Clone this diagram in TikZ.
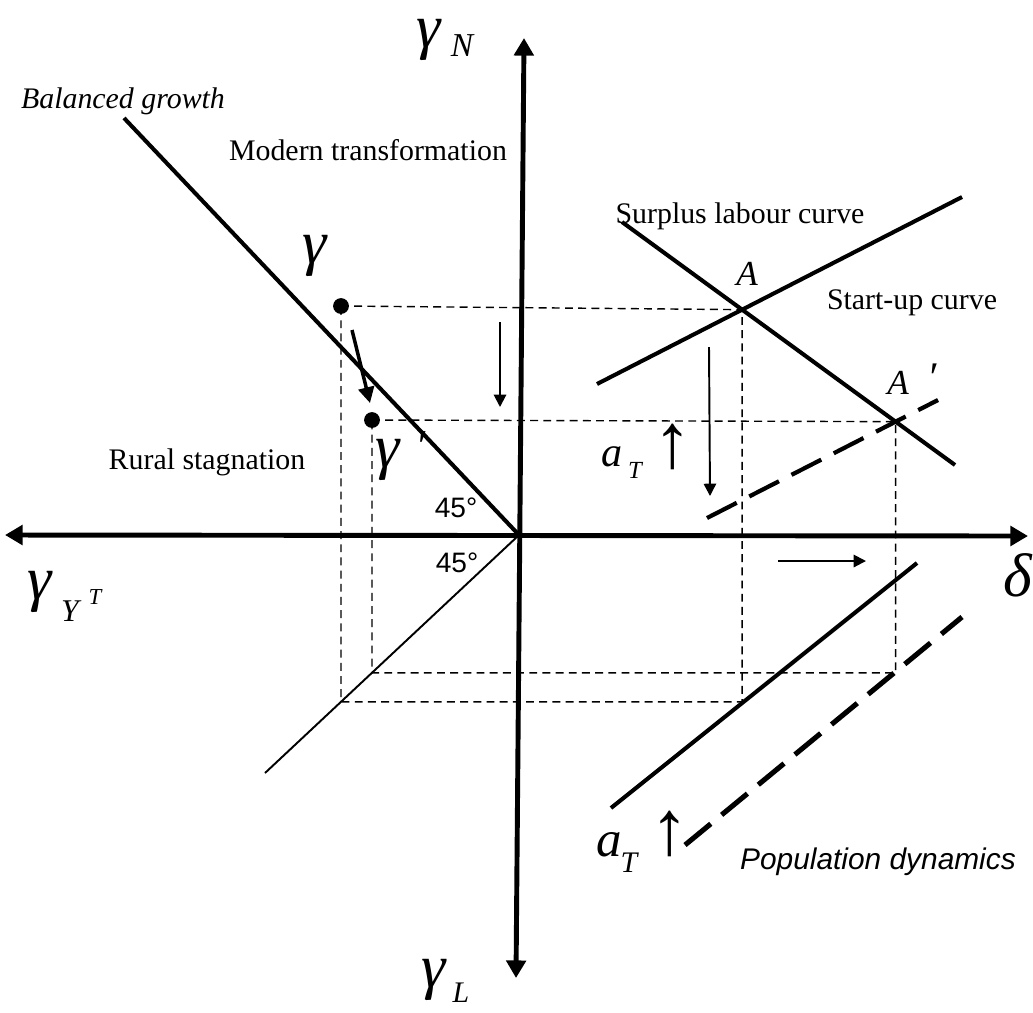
\documentclass[tikz,border=0pt]{standalone}
\usepackage{fontspec}
\setmainfont{Liberation Serif}
\newfontfamily\arialfont{Liberation Sans}
\usetikzlibrary{arrows.meta, positioning}

\begin{document}
\begin{tikzpicture}[
    x=0.02cm, y=-0.02cm,
    axis/.style={line width=2.8pt, {Triangle[length=10pt,width=11pt]}-{Triangle[length=10pt,width=11pt]}},
    curve/.style={line width=2.3pt},
    thinline/.style={line width=1.1pt},
    guide/.style={line width=0.8pt, dash pattern=on 4.5pt off 3pt},
    shifted/.style={line width=2.4pt, dash pattern=on 19pt off 8pt},
    move/.style={line width=1.1pt, -{Triangle[length=7pt,width=7pt]}},
    dot/.style={circle, fill, inner sep=0pt, minimum size=9pt},
    txt/.style={font=\fontsize{17}{20}\selectfont, inner sep=0pt},
    itxt/.style={font=\fontsize{17}{20}\selectfont\itshape, inner sep=0pt},
    stxt/.style={font=\arialfont\fontsize{17}{20}\selectfont\itshape, inner sep=0pt},
    deg/.style={font=\arialfont\fontsize{16}{18}\selectfont, inner sep=0pt},
    sym/.style={font=\fontsize{35}{35}\selectfont\itshape, inner sep=0pt},
    sub/.style={font=\fontsize{19}{19}\selectfont\itshape, inner sep=0pt},
    supsc/.style={font=\fontsize{13}{13}\selectfont\itshape, inner sep=0pt},
    pnt/.style={font=\fontsize{20}{20}\selectfont\itshape, inner sep=0pt},
    upa/.style={font=\fontsize{44}{44}\selectfont, inner sep=0pt}
  ]
  \useasboundingbox (0,0) rectangle (1033,1012);

  \coordinate (O) at (519,535);
  \coordinate (top) at (524,38);
  \coordinate (bot) at (516,978);
  \coordinate (lft) at (5,535);
  \coordinate (rgt) at (1028,536);
  \coordinate (bg) at (124,118);
  \coordinate (ff) at (265,773);
  \coordinate (sl1) at (622,222);
  \coordinate (sl2) at (955,465);
  \coordinate (su1) at (597,384);
  \coordinate (su2) at (962,197);
  \coordinate (sd1) at (707,518);
  \coordinate (sd2) at (938,400);
  \coordinate (pd1) at (611,808);
  \coordinate (pd2) at (917,563);
  \coordinate (pp1) at (685,845);
  \coordinate (pp2) at (962,617);
  \coordinate (A) at (intersection of sl1--sl2 and su1--su2);
  \coordinate (Ap) at (intersection of sl1--sl2 and sd1--sd2);
  \coordinate (G1) at (341,306);
  \coordinate (G2) at (372,420);
  \coordinate (G1d) at (341,900);
  \coordinate (G2d) at (372,900);
  \coordinate (b1) at (intersection of G1--G1d and O--ff);
  \coordinate (b2) at (intersection of G2--G2d and O--ff);
  \coordinate (c1) at (A |- b1);
  \coordinate (c2) at (Ap |- b2);

  \draw[guide] (G1) -- (A) -- (c1) -- (b1) -- cycle;
  \draw[guide] (G2) -- (Ap) -- (c2) -- (b2) -- cycle;

  \draw[curve] (bg) -- (O);
  \draw[thinline] (O) -- (ff);
  \draw[curve] (sl1) -- (sl2);
  \draw[curve] (su1) -- (su2);
  \draw[shifted] (sd1) -- (sd2);
  \draw[curve] (pd1) -- (pd2);
  \draw[shifted, line width=2.9pt] (pp1) -- (pp2);
  \draw[axis] (bot) -- (top);
  \draw[axis] (lft) -- (rgt);

  \node[dot] (g1) at (G1) {};
  \node[dot] (g2) at (G2) {};

  \coordinate (m1s) at (352,330);
  \coordinate (m1e) at (370,403);
  \coordinate (m2s) at (500,322);
  \coordinate (m2e) at (500,407);
  \coordinate (m3s) at (709,347);
  \coordinate (m3e) at (710,496);
  \coordinate (m4s) at (778,561);
  \coordinate (m4e) at (866,561);
  \draw[move, line width=2pt, -{Triangle[length=9pt,width=9pt]}] (m1s) -- (m1e);
  \draw[move] (m2s) -- (m2e);
  \draw[move] (m3s) -- (m3e);
  \draw[move] (m4s) -- (m4e);

  \node[itxt] (bgl) at (123,101) {Balanced growth};
  \node[txt] (mtl) at (368,150) {Modern transformation};
  \node[txt] (sll) at (740,216) {Surplus labour curve};
  \node[txt] (sul) at (912,303) {Start-up curve};
  \node[txt] (rsl) at (207,462) {Rural stagnation};
  \node[stxt] (pdl) at (878,862) {Population dynamics};
  \node[deg] (d1) at (456,508) {45°};
  \node[deg] (d2) at (457,563) {45°};

  \node[sym] (gN) at (429,40) {γ};
  \node[sub] (gNs) at (462,46) {N};
  \node[sym] (gY) at (40,592) {γ};
  \node[sub, font=\fontsize{18}{18}\selectfont\itshape] (gYs) at (70,611) {Y};
  \node[supsc] (gYt) at (95,597) {T};
  \node[sym] (gL) at (434,980) {γ};
  \node[sub, font=\fontsize{17}{17}\selectfont\itshape] (gLs) at (461,993) {L};
  \node[sym] (del) at (1018,575) {δ};
  \node[sym] (gam) at (315,256) {γ};
  \node[sym] (gam2) at (388,460) {γ};
  \node[pnt, font=\fontsize{26}{26}\selectfont\itshape] (gam2p) at (420,447) {′};
  \node[pnt] (Al) at (747,274) {A};
  \node[pnt] (Apl) at (898,383) {A};
  \node[pnt, font=\fontsize{24}{24}\selectfont\itshape] (Aplp) at (932,378) {′};

  \node[pnt, font=\fontsize{24}{24}\selectfont\itshape] (a1) at (612,457) {a};
  \node[pnt, font=\fontsize{14}{14}\selectfont\itshape] (a1s) at (635,470) {T};
  \node[upa] (u1) at (673,447) {↑};
  \node[pnt, font=\fontsize{29}{29}\selectfont\itshape] (a2) at (609,845) {a};
  \node[pnt, font=\fontsize{17}{17}\selectfont\itshape] (a2s) at (629,863) {T};
  \node[upa] (u2) at (670,834) {↑};
\end{tikzpicture}
\end{document}
